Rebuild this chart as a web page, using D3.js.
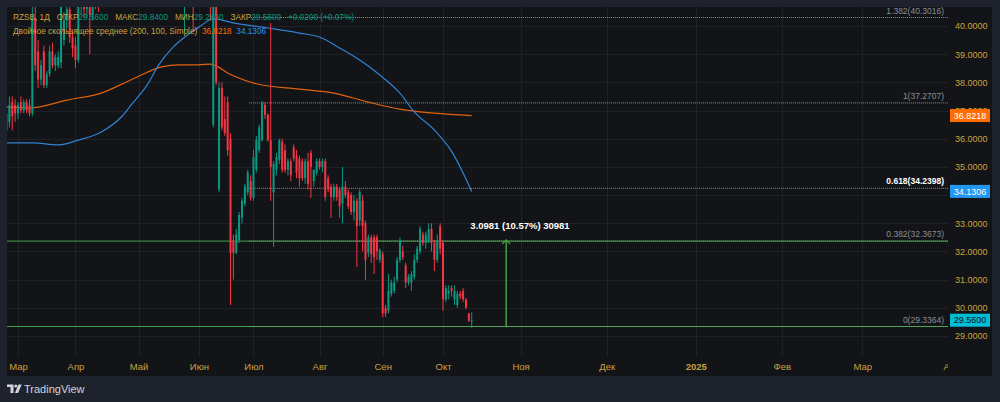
<!DOCTYPE html>
<html>
<head>
<meta charset="utf-8">
<script src="https://cdn.jsdelivr.net/npm/d3@7"></script>
<style>
  html, body { margin: 0; padding: 0; background: #1e222d; }
  svg { display: block; font-family: "Liberation Sans", Arial, sans-serif; }
</style>
</head>
<body>
<svg width="1000" height="402"></svg>
<script>
// RZSB daily candles, bar index -4 .. 158 (bar 0 = first trading day of March)
const firstBar = -4;
const open = [36.3,36.6,37.3,37.2,36.9,37.3,37.0,37.3,37.2,36.9,
  40.3,39.1,38.1,39.1,37.9,38.3,39.1,38.6,38.6,38.7,
  39.5,40.2,40.6,39.6,39.3,38.8,40.7,41.1,40.6,41.0,
  40.4,41.2,41.7,41.2,41.9,42.4,42.8,42.3,43.0,43.5,
  42.9,42.5,43.1,43.8,43.3,43.9,43.5,42.9,43.4,42.8,
  42.2,42.7,43.2,42.6,41.9,42.4,42.9,42.3,41.7,42.2,
  41.5,41.2,41.0,41.7,42.1,41.8,41.3,41.9,42.3,41.8,
  41.3,41.6,36.5,40.8,34.2,37.8,36.7,37.3,36.0,32.4,
  31.95,32.4,33.2,33.7,34.1,34.5,33.9,34.9,35.6,35.95,
  37.2,36.85,35.95,34.1,34.9,35.25,35.9,35.6,34.9,35.2,
  35.7,35.4,35.3,35.2,34.6,35.2,35.5,34.5,34.8,35.2,
  35.0,35.2,34.6,34.3,33.93,34.3,34.2,33.7,34.3,34.1,
  34.0,33.4,33.8,33.1,33.8,33.0,31.95,32.5,32.5,32.5,
  31.7,31.9,30.0,29.9,30.5,30.6,31.0,31.7,32.0,31.5,
  30.9,30.9,31.1,31.7,32.0,32.6,32.3,32.4,32.8,32.3,
  31.7,32.9,32.3,30.3,30.5,30.7,30.3,30.1,30.5,30.6,
  30.3,29.8,29.56];
const high = [37.0,37.5,37.5,37.4,37.3,37.5,37.4,37.4,37.4,40.9,
  40.9,39.5,38.8,39.3,38.4,39.3,39.4,39.0,39.1,41.0,
  40.5,40.9,40.9,39.8,39.6,41.0,41.3,41.4,41.3,41.3,
  41.5,41.9,42.0,42.2,42.6,43.0,43.1,43.2,43.8,43.9,
  43.2,43.4,44.0,44.2,44.1,44.3,43.8,43.6,43.7,43.0,
  43.0,43.5,43.4,42.9,42.7,43.1,43.2,42.6,42.5,42.4,
  41.8,41.6,42.0,42.4,42.5,42.0,42.1,42.6,42.6,42.0,
  41.9,41.8,41.4,41.2,38.0,38.0,37.5,37.5,36.2,32.6,
  32.8,33.4,33.9,34.4,34.9,34.7,35.6,36.1,36.5,37.34,
  37.3,36.9,40.1,35.2,35.5,36.0,36.0,35.8,35.3,35.3,
  35.8,35.6,35.4,35.3,35.3,35.5,35.6,34.9,35.3,35.3,
  35.3,35.3,34.7,34.4,34.4,34.4,34.3,35.0,34.5,34.2,
  34.1,34.0,33.9,34.2,34.0,33.1,32.6,32.6,32.6,32.6,
  32.1,32.0,30.1,31.2,31.0,31.1,31.8,32.5,32.2,31.6,
  31.2,31.3,31.9,32.2,32.9,32.7,32.7,33.0,33.0,32.4,
  32.6,33.0,32.4,30.8,30.8,30.8,30.8,30.6,30.6,30.7,
  30.35,29.82,29.84];
const low = [35.9,36.4,36.3,36.6,36.7,36.9,36.9,36.9,36.8,36.8,
  38.4,37.8,37.9,37.8,37.8,38.2,38.5,38.4,38.5,38.5,
  39.3,39.9,39.4,38.9,38.5,38.7,40.4,40.3,40.3,39.0,
  40.2,40.6,40.5,40.9,41.5,42.1,42.0,42.1,42.8,42.7,
  42.2,42.3,42.9,43.0,43.1,43.2,42.6,42.7,42.5,41.9,
  41.8,42.5,42.3,41.6,41.7,42.2,42.0,41.4,41.5,41.2,
  40.9,40.7,39.8,41.3,41.4,39.8,41.1,41.6,41.5,41.0,
  41.0,40.2,36.4,37.9,34.1,36.3,36.1,35.4,30.1,31.0,
  31.9,32.3,33.0,33.6,34.0,33.8,33.8,34.8,35.5,35.9,
  36.7,35.9,33.8,32.16,34.7,35.1,34.8,34.8,34.7,34.5,
  35.2,34.6,34.3,34.5,34.4,34.2,33.9,34.3,34.7,34.9,
  34.8,33.8,34.1,33.2,33.8,33.8,33.2,33.0,33.9,33.5,
  33.3,33.1,31.45,32.9,32.0,30.99,31.8,31.6,31.2,31.7,
  31.6,29.67,29.67,29.8,30.4,30.5,30.9,31.6,31.7,30.7,
  30.8,30.6,31.0,31.6,31.9,32.2,32.1,32.3,32.0,31.3,
  31.6,31.9,29.9,30.2,30.3,30.4,30.1,30.0,30.3,30.2,
  29.95,29.5,29.28];
const close = [36.9,37.2,36.8,36.9,37.2,37.0,37.3,37.0,36.9,40.3,
  38.6,38.1,38.6,37.9,38.3,39.1,38.6,38.9,38.9,40.8,
  40.2,40.6,39.6,39.2,38.8,40.7,41.1,40.6,41.0,40.4,
  41.2,41.7,41.2,41.9,42.4,42.8,42.3,43.0,43.5,42.9,
  42.5,43.1,43.8,43.3,43.9,43.5,42.9,43.4,42.8,42.2,
  42.7,43.2,42.6,41.9,42.4,42.9,42.3,41.7,42.2,41.5,
  41.2,41.0,41.7,42.1,41.8,41.3,41.9,42.3,41.8,41.3,
  41.6,40.9,41.0,38.0,37.8,36.4,36.2,35.6,31.95,31.95,
  32.6,33.3,33.8,34.3,34.8,33.9,35.35,35.95,36.4,37.27,
  36.85,35.95,35.0,35.1,35.35,35.95,34.9,34.9,35.2,34.7,
  35.3,34.8,34.6,34.6,35.2,34.4,35.0,34.9,35.2,35.0,
  35.2,33.93,34.2,33.93,34.3,33.93,33.6,34.3,34.0,33.6,
  33.4,33.8,32.9,34.1,32.9,31.7,32.5,31.9,31.8,32.0,
  32.05,29.8,29.8,30.6,30.9,30.9,31.7,32.4,31.8,30.9,
  31.1,31.2,31.7,32.1,32.8,32.3,32.6,32.8,32.3,31.7,
  32.4,32.1,30.3,30.7,30.6,30.6,30.6,30.5,30.4,30.3,
  30.0,29.54,29.56];

// double moving average, read at sample bars
const sma200Bars = [-4, 4, 17, 29, 40, 50, 56, 63, 67, 74, 83, 98, 110, 122, 133, 138, 145, 158];
const sma200 = [37.12, 37.09, 37.37, 37.62, 38.12, 38.55, 38.62, 38.62, 38.65, 38.28, 37.95, 37.76, 37.62, 37.30, 37.05, 36.98, 36.91, 36.8218];
const sma100Bars = [-4, 5, 14, 21, 29, 36, 40, 45, 49, 54, 59, 63, 68, 75, 87, 98, 105, 112, 119, 126, 133, 138, 145, 151, 158];
const sma100 = [35.85, 35.85, 35.78, 35.95, 36.24, 36.77, 37.27, 37.91, 38.62, 39.25, 39.68, 39.96, 40.25, 40.11, 39.93, 39.75, 39.61, 39.22, 38.79, 38.26, 37.62, 36.95, 36.31, 35.55, 34.1306];

// axes
const priceTicks = [29, 30, 31, 32, 33, 34, 35, 36, 37, 38, 39, 40];
const monthBars = [0, 20, 42, 63, 82, 105, 127, 148, 175, 205, 236, 266, 294, 325];
const monthLabels = ["Мар", "Апр", "Май", "Июн", "Июл", "Авг", "Сен", "Окт", "Ноя", "Дек", "2025", "Фев", "Мар", "Апр"];

// fibonacci retracement, horizontal lines, price range tool
const fibLevels = [40.3016, 37.2707, 34.2398, 32.3673, 29.3364];
const fibLabels = ["1.382(40.3016)", "1(37.2707)", "0.618(34.2398)", "0.382(32.3673)", "0(29.3364)"];
const fibStartBar = 80.5;
const hLines = [32.3673, 29.3364];
const rangeBar = 170;
const rangeFrom = 29.31, rangeTo = 32.4081;

const svg = d3.select("svg");
const pane = {left: 7, top: 7, right: 948, bottom: 357};
const up = "#089981", down = "#f23645";
const gold = "#c9a23f";

const x = d3.scaleLinear().domain([0, 148]).range([18, 443]);
const y = d3.scaleLinear().domain([29, 40]).range([336, 26]);

svg.append("rect").attr("width", 1000).attr("height", 402).attr("fill", "#1e222d");
svg.append("rect").attr("x", 7).attr("y", 7).attr("width", 985).attr("height", 369).attr("fill", "#131417");

svg.append("defs").append("clipPath").attr("id", "pane")
  .append("rect").attr("x", pane.left).attr("y", pane.top)
  .attr("width", pane.right - pane.left).attr("height", pane.bottom - pane.top);
svg.select("defs").append("clipPath").attr("id", "taxis")
  .append("rect").attr("x", pane.left).attr("y", pane.bottom)
  .attr("width", pane.right - pane.left).attr("height", 20);

let g = svg.append("g").attr("clip-path", "url(#pane)");

// grid
g.selectAll(".hgrid").data(priceTicks).enter().append("line")
  .attr("x1", pane.left).attr("x2", pane.right)
  .attr("y1", (d) => Math.round(y(d)) + 0.5).attr("y2", (d) => Math.round(y(d)) + 0.5)
  .attr("stroke", "#1f2127");
g.selectAll(".vgrid").data(monthBars).enter().append("line")
  .attr("x1", (d) => Math.round(x(d)) + 0.5).attr("x2", (d) => Math.round(x(d)) + 0.5)
  .attr("y1", pane.top).attr("y2", pane.bottom)
  .attr("stroke", "#1f2127");

// green horizontal lines
g.selectAll(".hl").data(hLines).enter().append("line")
  .attr("x1", pane.left).attr("x2", pane.right)
  .attr("y1", (d) => y(d)).attr("y2", (d) => y(d))
  .attr("stroke", "#43a047").attr("stroke-width", 1);

// fib dotted levels
g.selectAll(".fib").data(fibLevels).enter().append("line")
  .attr("x1", x(fibStartBar)).attr("x2", pane.right)
  .attr("y1", (d) => y(d)).attr("y2", (d) => y(d))
  .attr("stroke", "#8a8d95").attr("stroke-width", 1).attr("stroke-dasharray", "1,1");

// moving averages
let line = d3.line().x((d) => x(d[0])).y((d) => y(d[1])).curve(d3.curveMonotoneX);
g.append("path").datum(d3.zip(sma200Bars, sma200))
  .attr("d", line).attr("fill", "none").attr("stroke", "#e0620d").attr("stroke-width", 1.2);
g.append("path").datum(d3.zip(sma100Bars, sma100))
  .attr("d", line).attr("fill", "none").attr("stroke", "#2f82d2").attr("stroke-width", 1.2);

// candles
let bars = open.map((o, k) => ({i: firstBar + k, o: o, h: high[k], l: low[k], c: close[k]}));
let candle = g.selectAll(".candle").data(bars).enter().append("g")
  .attr("fill", (d) => d.c >= d.o ? up : down);
candle.append("rect")
  .attr("x", (d) => x(d.i) - 0.5).attr("width", 1)
  .attr("y", (d) => y(d.h)).attr("height", (d) => y(d.l) - y(d.h));
candle.append("rect")
  .attr("x", (d) => x(d.i) - 1).attr("width", 2)
  .attr("y", (d) => y(Math.max(d.o, d.c)))
  .attr("height", (d) => Math.max(1, Math.abs(y(d.o) - y(d.c))));

// price range measurement
g.append("line")
  .attr("x1", x(rangeBar)).attr("x2", x(rangeBar))
  .attr("y1", y(rangeFrom)).attr("y2", y(rangeTo))
  .attr("stroke", "#43a047").attr("stroke-width", 1.5);
g.append("path")
  .attr("d", `M${x(rangeBar) - 4},${y(rangeTo) + 4}L${x(rangeBar)},${y(rangeTo)}L${x(rangeBar) + 4},${y(rangeTo) + 4}`)
  .attr("fill", "none").attr("stroke", "#43a047").attr("stroke-width", 1.2);
let diff = rangeTo - rangeFrom;
svg.append("text")
  .attr("x", 520).attr("y", y(rangeTo) - 11)
  .attr("text-anchor", "middle").attr("fill", "#ffffff")
  .style("font-size", "9.5px").style("font-weight", "bold")
  .text(d3.format(".4f")(diff) + " (" + d3.format(".2%")(diff / rangeFrom) + ") " + Math.round(diff * 10000));

// fib labels
svg.selectAll(".fibl").data(fibLevels).enter().append("text")
  .attr("x", 944).attr("y", (d) => y(d) - 4)
  .attr("text-anchor", "end")
  .attr("fill", (d, i) => i == 2 ? "#ffffff" : "#8a8d95")
  .style("font-weight", (d, i) => i == 2 ? "bold" : "normal")
  .style("font-size", "8.5px")
  .text((d, i) => fibLabels[i]);

// price axis
let yAxis = svg.append("g").attr("transform", "translate(952,0)")
  .call(d3.axisRight(y).tickValues(priceTicks).tickFormat(d3.format(".4f")).tickSize(0).tickPadding(3));
yAxis.select(".domain").remove();
yAxis.selectAll("text").attr("fill", gold).style("font-size", "9px").style("font-family", "Liberation Sans, Arial, sans-serif");

// last value badges
let last = close.length - 1;
let badges = [
  {v: sma200[sma200.length - 1], bg: "#ff6d00", fg: "#ffffff"},
  {v: sma100[sma100.length - 1], bg: "#2196f3", fg: "#ffffff"},
  {v: close[last], bg: "#00bcd4", fg: "#131417"}
];
let badge = svg.selectAll(".badge").data(badges).enter().append("g");
badge.append("rect")
  .attr("x", 950).attr("width", 40).attr("y", (d) => y(d.v) - 6.5).attr("height", 13)
  .attr("fill", (d) => d.bg);
badge.append("text")
  .attr("x", 970).attr("y", (d) => y(d.v)).attr("dy", "0.35em")
  .attr("text-anchor", "middle").attr("fill", (d) => d.fg)
  .style("font-size", "9px")
  .text((d) => d3.format(".4f")(d.v));

// time axis
let xAxis = svg.append("g").attr("clip-path", "url(#taxis)").append("g")
  .attr("transform", "translate(0," + pane.bottom + ")")
  .call(d3.axisBottom(x).tickValues(monthBars).tickFormat((d, i) => monthLabels[i]).tickSize(0).tickPadding(6));
xAxis.select(".domain").remove();
xAxis.selectAll("text").attr("fill", gold).style("font-size", "9.5px")
  .style("font-family", "Liberation Sans, Arial, sans-serif")
  .style("font-weight", (d, i) => monthLabels[i] == "2025" ? "bold" : "normal");

// legend
let prev = close[last - 1];
let chg = close[last] - prev;
let fmt = d3.format(".4f");
let legend = svg.append("g").attr("transform", "translate(13,0) scale(0.87,1)");
let leg1 = legend.append("text").attr("x", 0).attr("y", 20).style("font-size", "9.5px").attr("xml:space", "preserve");
leg1.append("tspan").attr("fill", gold).text("RZSB, 1Д   ОТКР");
leg1.append("tspan").attr("fill", up).text(fmt(open[last]));
leg1.append("tspan").attr("fill", gold).text("   МАКС");
leg1.append("tspan").attr("fill", up).text(fmt(high[last]));
leg1.append("tspan").attr("fill", gold).text("   МИН");
leg1.append("tspan").attr("fill", up).text(fmt(low[last]));
leg1.append("tspan").attr("fill", gold).text("   ЗАКР");
leg1.append("tspan").attr("fill", up).text(fmt(close[last]));
leg1.append("tspan").attr("fill", up).text("   +" + fmt(chg) + " (+" + d3.format(".2%")(chg / prev) + ")");

let leg2 = legend.append("text").attr("x", 0).attr("y", 34).style("font-size", "9.5px").attr("xml:space", "preserve");
leg2.append("tspan").attr("fill", gold).text("Двойное скользящее среднее (200, 100, Simple)  ");
leg2.append("tspan").attr("fill", "#ff6d00").text(fmt(sma200[sma200.length - 1]) + "  ");
leg2.append("tspan").attr("fill", "#2196f3").text(fmt(sma100[sma100.length - 1]));

// TradingView logo
let logo = svg.append("g").attr("fill", "#d1d4dc");
logo.append("path").attr("d", "M7,384.5h6.5v8.5h-3v-6h-3.5z");
logo.append("circle").attr("cx", 15.8).attr("cy", 386).attr("r", 1.6);
logo.append("path").attr("d", "M18.5,384.5h3.2l-3.6,8.5h-3.2z");
logo.append("text").attr("x", 24).attr("y", 392.5).style("font-size", "11px").text("TradingView");
</script>
</body>
</html>
